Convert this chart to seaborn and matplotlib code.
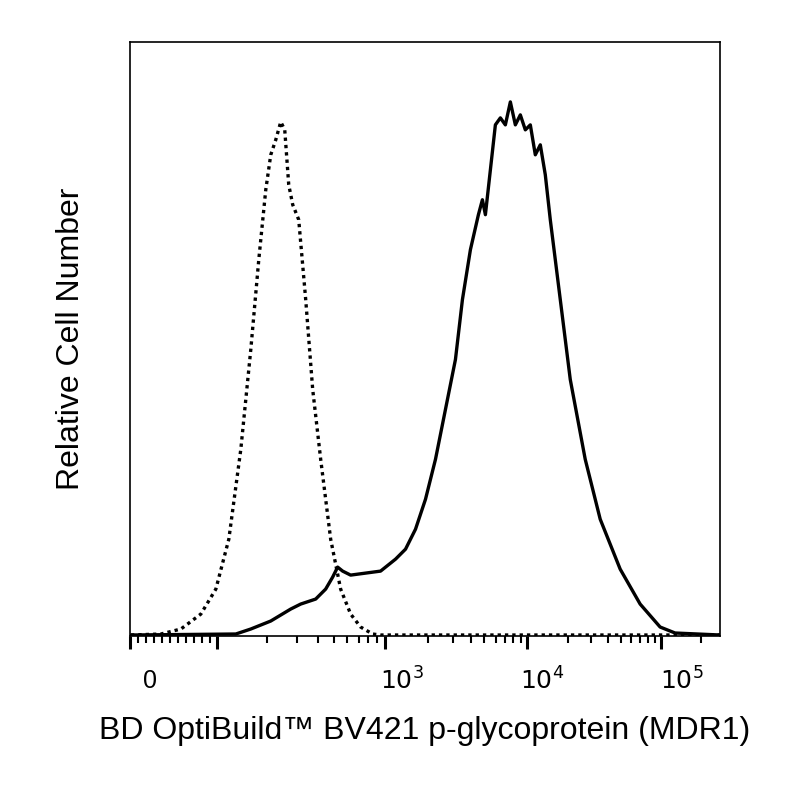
import numpy as np
import matplotlib
matplotlib.use("Agg")
import matplotlib.pyplot as plt
import seaborn as sns
import pandas as pd

# x in display channel units (axis runs 130..720), y = relative count
iso_x = [130, 160, 180, 200, 215, 228, 240, 250, 258, 265, 270, 275, 280, 284, 288, 292, 298, 305, 312, 320, 330, 340, 350, 360, 372, 380, 720]
iso_y = [0, 1, 6, 21, 46, 96, 186, 286, 376, 446, 481, 496, 514, 506, 451, 431, 416, 336, 246, 176, 96, 46, 21, 8, 1, 0, 0]
stain_x = [130, 235, 250, 270, 290, 300, 315, 325, 332, 337, 342, 350, 365, 380, 395, 405, 415, 425, 435, 445, 455, 462, 470, 478,
           482, 485, 490, 495, 500, 505, 510, 515, 520, 525, 530, 535, 540, 545, 550, 560, 570, 585, 600, 620, 640, 660, 675, 720]
stain_y = [0, 1, 6, 14, 26, 31, 36, 46, 58, 68, 64, 60, 62, 64, 76, 86, 106, 136, 176, 226, 276, 336, 386, 421,
           436, 421, 466, 511, 518, 511, 534, 511, 521, 506, 511, 481, 491, 461, 416, 336, 256, 176, 116, 66, 31, 8, 2, 0]

major_pos = [129, 216, 384, 527, 661]
tick_labels = {150: "0", 402: "$10^3$", 542: "$10^4$", 682: "$10^5$"}

sns.set_style("white")
plt.rcParams['font.family'] = ['Liberation Sans', 'DejaVu Sans']
plt.rcParams['text.color'] = 'black'
plt.rcParams['axes.labelcolor'] = 'black'

fig = plt.figure(figsize=(8, 8), dpi=100)
ax = fig.add_axes([130/800, 1-636/800, 590/800, 594/800])
sns.lineplot(x=iso_x, y=iso_y, ax=ax, color="black", lw=2.4, linestyle=(0, (1, 1.2)))
sns.lineplot(x=stain_x, y=stain_y, ax=ax, color="black", lw=2.4)
ax.set_xlim(130, 720)
ax.set_ylim(-1, 594)
for s in ax.spines.values():
    s.set_color("black"); s.set_linewidth(1.2)

minor = list(np.arange(137, 212, 8))
minor += [216 + 168*np.log10(k) for k in range(2, 10)]
minor += [384 + 143*np.log10(k) for k in range(2, 10)]
minor += [527 + 134*np.log10(k) for k in range(2, 10)]
minor += [661 + 134*np.log10(k) for k in range(2, 3)]
ax.set_xticks(major_pos)
ax.set_xticklabels([])
ax.set_xticks(minor, minor=True)
ax.tick_params(axis="x", which="major", direction="out", length=9, width=2.2, bottom=True, color="black")
ax.tick_params(axis="x", which="minor", direction="out", length=5, width=1.5, bottom=True, color="black")
ax.set_yticks([])
for p, t in tick_labels.items():
    ax.text((p-130)/590, -0.075, t, transform=ax.transAxes, ha="center", va="center", fontsize=18, color="black")

ax.set_ylabel("Relative Cell Number", fontsize=23, labelpad=32)
ax.set_xlabel("BD OptiBuild\u2122 BV421 p-glycoprotein (MDR1)", fontsize=23, labelpad=45)
fig.savefig("out.png", dpi=100)
